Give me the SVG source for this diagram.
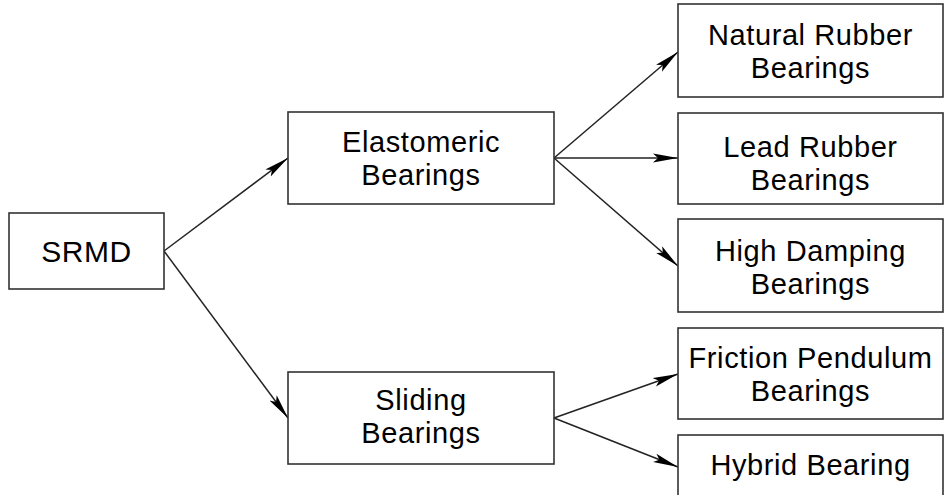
<svg xmlns="http://www.w3.org/2000/svg" width="946" height="495" viewBox="0 0 946 495">
<defs>
<marker id="ah" markerUnits="userSpaceOnUse" markerWidth="26" markerHeight="11" refX="25" refY="5.5" orient="auto">
<path d="M0,1 L25,5.5 L0,10 L5,5.5 Z" fill="#000"/>
</marker>
<style>
.box{fill:#fff;stroke:#333;stroke-width:1.6}
.t{font-family:"Liberation Sans",Arial,sans-serif;font-size:29px;letter-spacing:0.6px;fill:#000;text-anchor:middle}
.c{fill:none;stroke:#222;stroke-width:1.5;marker-end:url(#ah)}
</style>
</defs>
<rect width="946" height="495" fill="#fff"/>
<g id="connectors">
<line class="c" x1="164" y1="251" x2="288" y2="158"/>
<line class="c" x1="164" y1="251" x2="288" y2="418"/>
<line class="c" x1="554" y1="158" x2="678" y2="52"/>
<line class="c" x1="554" y1="158" x2="678" y2="158"/>
<line class="c" x1="554" y1="158" x2="678" y2="266"/>
<line class="c" x1="554" y1="418" x2="678" y2="374"/>
<line class="c" x1="554" y1="418" x2="678" y2="467"/>
</g>
<g id="srmd">
<rect class="box" x="9" y="213" width="155" height="76"/>
<text class="t" x="86.5" y="262" style="font-size:30px">SRMD</text>
</g>
<g id="elastomeric">
<rect class="box" x="288" y="112" width="266" height="92"/>
<text class="t"><tspan x="421" y="151.5">Elastomeric</tspan><tspan x="421" y="184.5">Bearings</tspan></text>
</g>
<g id="sliding">
<rect class="box" x="288" y="372" width="266" height="92"/>
<text class="t"><tspan x="421" y="410">Sliding</tspan><tspan x="421" y="443">Bearings</tspan></text>
</g>
<g id="natural">
<rect class="box" x="678" y="4" width="265" height="93"/>
<text class="t"><tspan x="810.5" y="45">Natural Rubber</tspan><tspan x="810.5" y="78">Bearings</tspan></text>
</g>
<g id="lead">
<rect class="box" x="678" y="113" width="265" height="91"/>
<text class="t"><tspan x="810.5" y="157">Lead Rubber</tspan><tspan x="810.5" y="190">Bearings</tspan></text>
</g>
<g id="highdamping">
<rect class="box" x="678" y="219" width="265" height="93"/>
<text class="t"><tspan x="810.5" y="261">High Damping</tspan><tspan x="810.5" y="294">Bearings</tspan></text>
</g>
<g id="friction">
<rect class="box" x="678" y="328" width="265" height="91"/>
<text class="t"><tspan x="810.5" y="367.5">Friction Pendulum</tspan><tspan x="810.5" y="400.5">Bearings</tspan></text>
</g>
<g id="hybrid">
<rect class="box" x="678" y="435" width="265" height="70"/>
<text class="t" x="810.5" y="475">Hybrid Bearing</text>
</g>
</svg>
